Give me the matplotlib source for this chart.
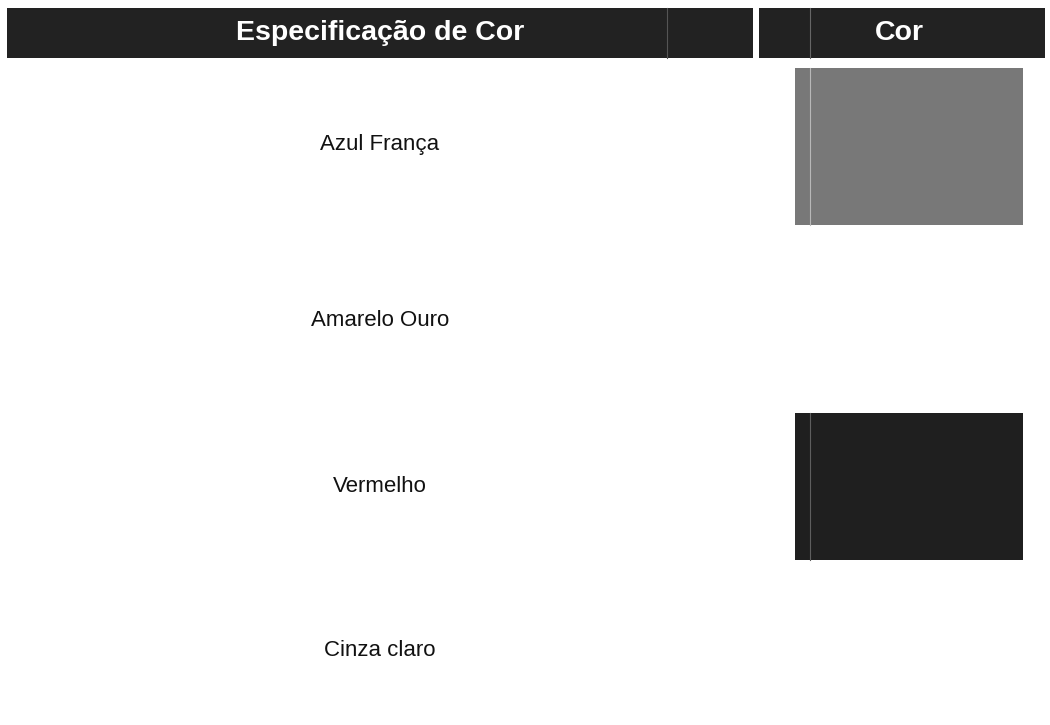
import matplotlib
matplotlib.use("Agg")
import matplotlib.pyplot as plt
from matplotlib.patches import Rectangle

# ---- data ----
headers = ["Especificação de Cor", "Cor"]
categories = ["Azul França", "Amarelo Ouro", "Vermelho", "Cinza claro"]
# gray level of each colour swatch as it appears in the (grayscale) scan
swatch_gray = [0.47, 1.0, 0.12, 1.0]

# ---- layout (pixels) ----
W, H = 1050, 725
row_y = [144, 320, 486, 651]
swatch_span = [(68, 225), (235, 405), (413, 560), (575, 720)]

fig = plt.figure(figsize=(W / 100, H / 100), dpi=100)
ax = fig.add_axes([0, 0, 1, 1])
ax.set_xlim(0, W)
ax.set_ylim(H, 0)
ax.axis("off")
plt.rcParams["font.family"] = ["Liberation Sans", "DejaVu Sans"]
fam = ["Liberation Sans", "DejaVu Sans"]

header_color = "#222222"
hdr_top, hdr_bot = 8, 58
col_bounds = [(7, 753), (759, 1045)]
text_cx = [380, 899]
for (x0, x1), label, cx in zip(col_bounds, headers, text_cx):
    ax.add_patch(Rectangle((x0, hdr_top), x1 - x0, hdr_bot - hdr_top,
                           facecolor=header_color, edgecolor="none"))
    ax.text(cx, (hdr_top + hdr_bot) / 2, label, color="white",
            fontsize=20.5, fontweight="bold", ha="center", va="center",
            family=fam)

# faint separator lines seen in the header scan
ax.plot([667, 667], [hdr_top, hdr_bot], color="#555555", lw=0.8)
ax.plot([810, 810], [hdr_top, hdr_bot], color="#666666", lw=0.8)

sw_x0, sw_x1 = 795, 1023
for name, g, cy, (t, b) in zip(categories, swatch_gray, row_y, swatch_span):
    ax.text(380, cy, name, fontsize=16, ha="center", va="center",
            color="#111111", family=fam)
    if g < 1.0:
        ax.add_patch(Rectangle((sw_x0, t), sw_x1 - sw_x0, b - t,
                               facecolor=(g, g, g), edgecolor="none"))
        ax.plot([sw_x0 + 15, sw_x0 + 15], [t, b],
                color=(min(g + 0.25, 1),) * 3, lw=0.8)

fig.savefig("out.png", dpi=100)
